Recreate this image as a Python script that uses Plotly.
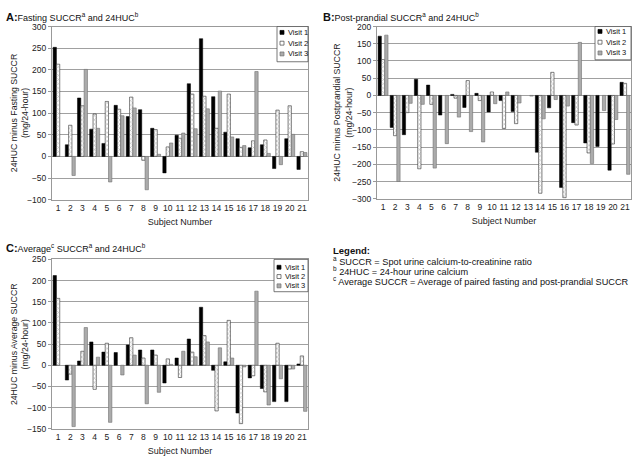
import plotly.graph_objects as go

W, H = 637, 466
subjects = [str(i) for i in range(1, 22)]

# Panel A: 24HUC minus Fasting SUCCR
a_v1 = [252, 27, 135, 63, 30, 118, 92, 108, 65, -38, 49, 168, 272, 138, 56, 41, 20, 27, -28, 41, -30]
a_v2 = [213, 72, 117, 98, 127, 109, 137, -9, 62, 22, 42, 144, 139, 65, 144, 21, 36, 38, 107, 117, 11]
a_v3 = [None, -44, 201, 65, -59, 94, 112, -77, 5, 31, 54, 64, 110, 151, 45, 25, 196, 7, -19, 51, 9]

# Panel B: 24HUC minus Postprandial SUCCR
b_v1 = [172, -93, -114, 47, 30, -57, 3, -35, 6, -48, -15, -47, None, -165, -36, -267, -79, -138, -148, -217, 38]
b_v2 = [104, -117, -50, -213, -26, None, -8, 43, -15, 10, -96, -82, None, -284, 67, -297, -86, -167, None, -141, 35]
b_v3 = [175, -250, -23, -26, -211, -140, -63, -105, -135, -24, 10, -22, -2, -68, -12, -31, 154, -198, -44, -70, -229]

# Panel C: 24HUC minus Average SUCCR
c_v1 = [212, -35, 10, 55, 31, 30, 48, 36, 36, -42, 17, 62, 137, -12, 8, -113, -30, -55, -86, -86, 3]
c_v2 = [158, -21, 33, -57, 52, None, 65, 17, 24, 15, -29, 31, 70, -108, 106, -138, -25, -63, 52, -9, 22]
c_v3 = [None, -145, 89, 19, -135, -23, 24, -91, -64, 2, 33, 20, 55, 41, 17, -4, 175, -94, -32, -9, -109]

visit_names = ["Visit 1", "Visit 2", "Visit 3"]

FONT = "Liberation Sans, Arial, sans-serif"
V1_COLOR = "black"
V2_COLOR = "white"
V3_COLOR = "#ababab"


def px_x(p):
    return p / W


def px_y(p):
    return 1 - p / H


panels = [
    dict(data=[a_v1, a_v2, a_v3], xd=(52, 308), yd=(22, 199), rng=(-100, 300), dt=50,
         ax="", lgbox=(277, 22, 308, 58), lgy=(28, 39, 50)),
    dict(data=[b_v1, b_v2, b_v3], xd=(377, 631), yd=(22, 198), rng=(-300, 200), dt=50,
         ax="2", lgbox=(595, 22, 631, 56), lgy=(27, 38, 49)),
    dict(data=[c_v1, c_v2, c_v3], xd=(52, 308), yd=(260, 433), rng=(-150, 250), dt=50,
         ax="3", lgbox=(274, 260, 308, 293), lgy=(268, 277.5, 287)),
]

fig = go.Figure()
layout = dict(
    width=W, height=H, margin=dict(l=0, r=0, t=0, b=0),
    paper_bgcolor="white", plot_bgcolor="white",
    barmode="group", bargap=0.18, bargroupgap=0.0,
    font=dict(family=FONT, size=8, color="#222"),
    showlegend=False,
)

shapes = []
anns = []

for p in panels:
    ax = p["ax"]
    for k, (vals, name) in enumerate(zip(p["data"], visit_names)):
        if k == 0:
            marker = dict(color=V1_COLOR, line=dict(color="black", width=0.5))
        elif k == 1:
            marker = dict(color=V2_COLOR, line=dict(color="#333", width=0.6),
                          pattern=dict(shape="x", fgcolor="#777", bgcolor="white", size=3, solidity=0.35))
        else:
            marker = dict(color=V3_COLOR, line=dict(color="#707070", width=0.6))
        fig.add_trace(go.Bar(
            x=subjects, y=vals, name=name, marker=marker,
            xaxis="x" + ax, yaxis="y" + ax,
        ))
    layout["xaxis" + ax] = dict(
        domain=[px_x(p["xd"][0]), px_x(p["xd"][1])], anchor="y" + ax,
        type="category", range=[-0.5, 20.5], showline=True, linecolor="#999", mirror=True,
        ticks="", tickfont=dict(size=8.5, family=FONT), showgrid=False,
        title=dict(text="Subject Number", font=dict(size=9, family=FONT), standoff=6),
        fixedrange=True,
    )
    layout["yaxis" + ax] = dict(
        domain=[px_y(p["yd"][1]), px_y(p["yd"][0])], anchor="x" + ax,
        range=list(p["rng"]), dtick=p["dt"], tick0=0,
        showline=True, linecolor="#999", mirror=True,
        ticks="outside", ticklen=3, tickcolor="#999",
        showgrid=True, gridcolor="#a0a0a0", gridwidth=1, zeroline=False,
        tickfont=dict(size=8.5, family=FONT), fixedrange=True,
    )
    # custom legend box
    x0, y0, x1, y1 = p["lgbox"]
    shapes.append(dict(type="rect", xref="paper", yref="paper",
                       x0=px_x(x0), x1=px_x(x1), y0=px_y(y1), y1=px_y(y0),
                       line=dict(color="#555", width=0.8), fillcolor="white", layer="above"))
    colors = [V1_COLOR, V2_COLOR, V3_COLOR]
    lines = ["black", "#444", "#707070"]
    for yy, c, lc, nm in zip(p["lgy"], colors, lines, visit_names):
        shapes.append(dict(type="rect", xref="paper", yref="paper",
                           x0=px_x(x0 + 3), x1=px_x(x0 + 7), y0=px_y(yy + 2), y1=px_y(yy - 2),
                           line=dict(color=lc, width=0.7), fillcolor=c, layer="above"))
        anns.append(dict(xref="paper", yref="paper", x=px_x(x0 + 9), y=px_y(yy), text=nm,
                         showarrow=False, xanchor="left", yanchor="middle",
                         font=dict(size=7.5, family=FONT, color="#111")))

layout["shapes"] = shapes
fig.update_layout(**layout)

# panel titles
titles = [
    ("<span style='font-size:11px'><b>A:</b></span>Fasting SUCCR<sup>a</sup> and 24HUC<sup>b</sup>", 4, 12),
    ("<span style='font-size:11px'><b>B:</b></span>Post-prandial SUCCR<sup>a</sup> and 24HUC<sup>b</sup>", 321, 12),
    ("<span style='font-size:11px'><b>C:</b></span>Average<sup>c</sup> SUCCR<sup>a</sup> and 24HUC<sup>b</sup>", 4, 248),
]
for t, x, y in titles:
    anns.append(dict(xref="paper", yref="paper", x=px_x(x), y=px_y(y), text=t,
                     showarrow=False, xanchor="left", yanchor="middle",
                     font=dict(size=9, family=FONT, color="#111")))

# y-axis titles
ytitles = [
    ("24HUC minus Fasting SUCCR<br>(mg/24-hour)", 19, (22 + 199) / 2),
    ("24HUC minus Postprandial SUCCR<br>(mg/24-hour)", 343, (22 + 198) / 2),
    ("24HUC minus Average SUCCR<br>(mg/24-hour)", 19, (260 + 433) / 2),
]
for t, x, y in ytitles:
    anns.append(dict(xref="paper", yref="paper", x=px_x(x), y=px_y(y), text=t,
                     showarrow=False, textangle=-90, xanchor="center", yanchor="middle",
                     font=dict(size=8.7, family=FONT, color="#222")))

# legend text block
notes = [
    ("<b>Legend:</b>", 251, 9.5),
    ("<sup>a</sup> SUCCR = Spot urine calcium-to-creatinine ratio", 262, 9.2),
    ("<sup>b</sup> 24HUC = 24-hour urine calcium", 272, 9.2),
    ("<sup>c</sup> Average SUCCR = Average of paired fasting and post-prandial SUCCR", 282, 9.2),
]
for t, y, s in notes:
    anns.append(dict(xref="paper", yref="paper", x=px_x(331), y=px_y(y), text=t,
                     showarrow=False, xanchor="left", yanchor="middle",
                     font=dict(size=s, family=FONT, color="#111")))

fig.update_layout(annotations=anns)
fig.write_html("out.html", config={"displayModeBar": False, "staticPlot": True},
               post_script="document.body.style.margin='0';document.body.style.overflow='hidden';")
